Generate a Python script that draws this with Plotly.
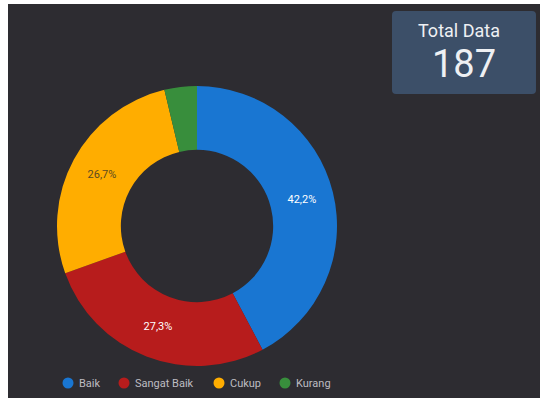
import plotly.graph_objects as go

# Survey result categories and their counts (total 187)
categories = ["Baik", "Sangat Baik", "Cukup", "Kurang"]
counts = [79, 51, 50, 7]
colors = ["#1976d2", "#b71c1c", "#ffad00", "#388e3c"]
label_colors = ["#ffffff", "#ffffff", "#5b4a22", "#ffffff"]
show_label = [True, True, True, False]

W, H = 540, 398
BG = "#2d2c31"

def px_x(v):
    return v / W

def px_y(v):
    return 1 - v / H

total = sum(counts)

fig = go.Figure()

# donut centred at (197, 226) px with outer radius 140 px
cx, cy, r = 197, 226, 140
fig.add_trace(go.Pie(
    labels=categories,
    values=counts,
    sort=False,
    direction="clockwise",
    rotation=0,
    hole=0.544,
    marker=dict(colors=colors, line=dict(width=0)),
    texttemplate=["%{percent:.1%}" if s else "" for s in show_label],
    textposition="inside",
    insidetextorientation="horizontal",
    textfont=dict(family="Roboto", size=11, color=label_colors),
    showlegend=False,
    domain=dict(x=[px_x(cx - r), px_x(cx + r)], y=[px_y(cy + r), px_y(cy - r)]),
))

shapes = []
annotations = []

# light frame strips along top and left edges
shapes.append(dict(type="rect", xref="paper", yref="paper", x0=0, x1=1, y0=px_y(4), y1=1,
                   fillcolor="#ffffff", line=dict(width=0), layer="above"))
shapes.append(dict(type="rect", xref="paper", yref="paper", x0=0, x1=px_x(8), y0=0, y1=1,
                   fillcolor="#ffffff", line=dict(width=0), layer="above"))

# "Total Data" score card with rounded corners
bx0, bx1, by0, by1, rad = 392, 536, 11, 94, 4
def pt(x, y):
    return f"{px_x(x):.5f},{px_y(y):.5f}"
path = (f"M {pt(bx0 + rad, by0)} L {pt(bx1 - rad, by0)} Q {pt(bx1, by0)} {pt(bx1, by0 + rad)} "
        f"L {pt(bx1, by1 - rad)} Q {pt(bx1, by1)} {pt(bx1 - rad, by1)} "
        f"L {pt(bx0 + rad, by1)} Q {pt(bx0, by1)} {pt(bx0, by1 - rad)} "
        f"L {pt(bx0, by0 + rad)} Q {pt(bx0, by0)} {pt(bx0 + rad, by0)} Z")
shapes.append(dict(type="path", xref="paper", yref="paper", path=path,
                   fillcolor="#3c4f68", line=dict(width=0), layer="below"))
annotations.append(dict(text="Total Data", xref="paper", yref="paper",
                        x=px_x(458.5), y=px_y(31), showarrow=False, xanchor="center", yanchor="middle",
                        font=dict(family="Roboto", size=18, color="#eef0f3")))
annotations.append(dict(text=str(total), xref="paper", yref="paper",
                        x=px_x(464), y=px_y(64), showarrow=False, xanchor="center", yanchor="middle",
                        font=dict(family="Roboto", size=38, color="#eef0f3")))

# legend row: circle swatch followed by category name
legend_x = [68, 124, 219, 285]
legend_y = 383
for name, col, lx in zip(categories, colors, legend_x):
    shapes.append(dict(type="circle", xref="paper", yref="paper",
                       x0=px_x(lx - 5.5), x1=px_x(lx + 5.5), y0=px_y(legend_y + 5.5), y1=px_y(legend_y - 5.5),
                       fillcolor=col, line=dict(width=0)))
    annotations.append(dict(text=name, xref="paper", yref="paper",
                            x=px_x(lx + 9), y=px_y(legend_y), showarrow=False,
                            xanchor="left", yanchor="middle",
                            font=dict(family="Roboto", size=11, color="#bdbdc2")))

fig.update_layout(
    width=W, height=H, autosize=False,
    margin=dict(l=0, r=0, t=0, b=0),
    paper_bgcolor=BG, plot_bgcolor=BG,
    separators=",.",
    shapes=shapes,
    annotations=annotations,
)

fig.write_html("out.html")
